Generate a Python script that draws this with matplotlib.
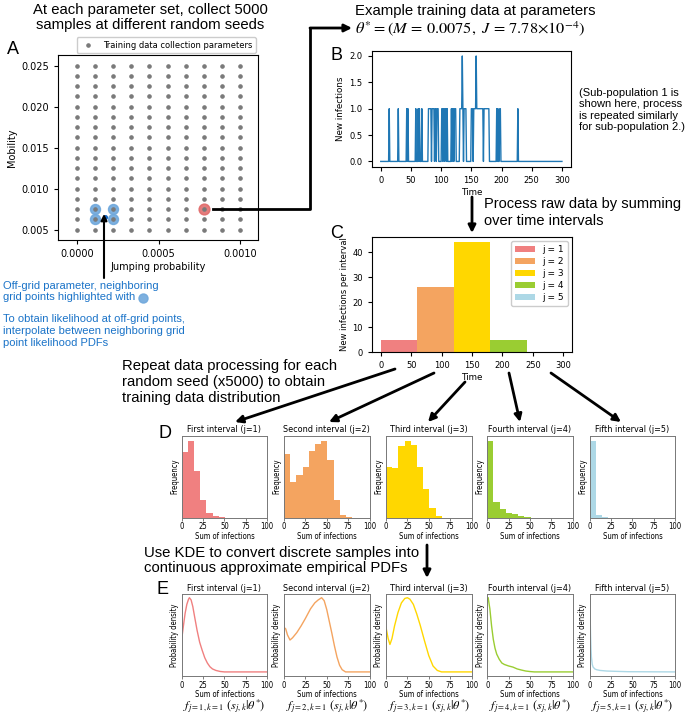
import numpy as np
import matplotlib
matplotlib.use('Agg')
import matplotlib.pyplot as plt
from matplotlib.patches import FancyArrowPatch, Patch
from matplotlib.lines import Line2D
from matplotlib.font_manager import FontProperties
from matplotlib.ticker import FormatStrFormatter

W, H = 688, 715
plt.rcParams['mathtext.fontset'] = 'stix'
plt.rcParams['font.family'] = ['DejaVu Sans']
SANS = ['Liberation Sans', 'DejaVu Sans']

# ---------------- data ----------------
grid_J = [0.0, 0.000111, 0.000222, 0.000333, 0.000444, 0.000556, 0.000667, 0.000778, 0.000889, 0.001]
grid_M = [0.005, 0.00625, 0.0075, 0.00875, 0.01, 0.01125, 0.0125, 0.01375, 0.015,
          0.01625, 0.0175, 0.01875, 0.02, 0.02125, 0.0225, 0.02375, 0.025]
neighbor_J = [0.000111, 0.000222, 0.000111, 0.000222]
neighbor_M = [0.00625, 0.00625, 0.0075, 0.0075]
theta_J, theta_M = 0.000778, 0.0075
offgrid_J, offgrid_M = 0.000169, 0.00654

time_steps = list(range(0, 301))
infection_times = [14, 29, 43, 45, 58,
                   62, 64, 68, 79, 80, 81, 82, 83, 85, 86, 87, 88, 90, 91, 93, 94, 95,
                   101, 102, 104, 105, 107, 108, 110, 117, 119,
                   120, 122, 123, 124, 131, 132, 133, 134, 135, 136, 138, 139, 140, 141,
                   150, 151, 152, 154, 155, 156, 157, 158, 159, 160, 161, 162, 163, 164,
                   165, 166, 167, 168, 169, 171, 172, 173, 174, 175, 176, 177, 178, 179,
                   192, 194, 197, 198, 227]
infection_counts = [1] * len(infection_times)
infection_counts[infection_times.index(135)] = 2
infection_counts[infection_times.index(158)] = 2

interval_starts = [0, 60, 120, 180, 240]
interval_width = 60
interval_sums = [5, 26, 44, 5, 0]
interval_labels = ['j = 1', 'j = 2', 'j = 3', 'j = 4', 'j = 5']
colors = ['#F08080', '#F4A460', '#FFD700', '#9ACD32', '#ADD8E6']

titles = ['First interval (j=1)', 'Second interval (j=2)', 'Third interval (j=3)',
          'Fourth interval (j=4)', 'Fifth interval (j=5)']
hist_bin_width = 7.25
hist_counts = [
    [1538, 1795, 1096, 412, 117, 31, 12],
    [646, 364, 435, 520, 680, 751, 785, 588, 180, 31, 7],
    [620, 608, 865, 934, 877, 612, 343, 114, 20],
    [3450, 717, 373, 224, 149, 60, 22],
    [4790, 166, 41],
]

kde_x = [
    [0, 2, 4, 6, 8, 9, 11, 13, 15, 18, 21, 24, 27, 30, 33, 36, 40, 45, 50, 100],
    [0, 2, 4, 7, 10, 15, 20, 25, 31, 36, 40, 44, 47, 50, 53, 56, 59, 62, 65, 68, 72, 100],
    [0, 2.5, 4.6, 7, 10, 14, 18, 22, 25, 28, 32, 36, 40, 45, 50, 55, 60, 65, 100],
    [0, 1, 3, 5, 7, 9, 11, 14, 17, 20, 25, 30, 35, 40, 45, 50, 55, 100],
    [0, 0.5, 1, 1.5, 2, 3, 4, 6, 8, 12, 20, 30, 45, 100],
]
kde_y = [
    [0.44, 0.62, 0.79, 0.91, 0.98, 1.0, 0.97, 0.88, 0.75, 0.56, 0.40, 0.29, 0.19, 0.12, 0.07, 0.04, 0.02, 0.006, 0.0, 0.0],
    [0.60, 0.58, 0.50, 0.43, 0.46, 0.53, 0.62, 0.72, 0.85, 0.93, 0.97, 1.0, 0.96, 0.84, 0.68, 0.52, 0.35, 0.20, 0.09, 0.03, 0.0, 0.0],
    [0.60, 0.45, 0.37, 0.45, 0.62, 0.80, 0.93, 0.99, 1.0, 0.98, 0.91, 0.78, 0.63, 0.42, 0.22, 0.08, 0.02, 0.0, 0.0],
    [0.97, 1.0, 0.85, 0.62, 0.44, 0.32, 0.24, 0.17, 0.12, 0.10, 0.08, 0.065, 0.04, 0.025, 0.012, 0.005, 0.0, 0.0],
    [1.0, 0.75, 0.5, 0.32, 0.2, 0.1, 0.065, 0.04, 0.03, 0.02, 0.012, 0.008, 0.003, 0.0],
]
f_labels = [r'$f_{j=%d,k=1}\ (s_{j,k}|\theta^{*})$' % (i + 1) for i in range(5)]

# ---------------- helpers ----------------
fig = plt.figure(figsize=(W / 100, H / 100), dpi=100)


def fpt(x, y):
    return (x / W, 1 - y / H)


def axes_px(l, t, r, b):
    return fig.add_axes([l / W, 1 - b / H, (r - l) / W, (b - t) / H])


def arrow(p0, p1, lw=2.0, ms=11):
    fig.add_artist(FancyArrowPatch(fpt(*p0), fpt(*p1), transform=fig.transFigure,
                                   arrowstyle='-|>', mutation_scale=ms, lw=lw, color='black',
                                   shrinkA=0, shrinkB=0))


def ftext(x, y, s, size=10, ha='left', color='black', ls=1.2, **kw):
    fig.text(x / W, 1 - y / H, s, fontsize=size, ha=ha, va='center', color=color,
             family=SANS, linespacing=ls, **kw)


# ---------------- panel A ----------------
axA = axes_px(58, 55, 258, 240)
GJ, GM = np.meshgrid(grid_J, grid_M)
axA.plot(neighbor_J, neighbor_M, 'o', ms=7.2, color='#6fa8dc', alpha=0.9, zorder=1, ls='none')
axA.plot([theta_J], [theta_M], 'o', ms=7.8, color='#e06666', alpha=0.85, zorder=1)
axA.plot(GJ.ravel(), GM.ravel(), 'o', ms=2.3, color='#7a7a7a', ls='none', zorder=2,
         label='Training data collection parameters')
axA.plot([offgrid_J], [offgrid_M], 'o', ms=2.6, color='#1565c0', zorder=3)
axA.set_xlim(-0.000117, 0.00111)
axA.set_ylim(0.00374, 0.0263)
axA.set_xticks([0.0, 0.0005, 0.001])
axA.xaxis.set_major_formatter(FormatStrFormatter('%.4f'))
axA.set_yticks([0.005, 0.010, 0.015, 0.020, 0.025])
axA.yaxis.set_major_formatter(FormatStrFormatter('%.3f'))
axA.tick_params(labelsize=7, length=3)
axA.set_xlabel('Jumping probability', fontsize=7, labelpad=2)
axA.set_ylabel('Mobility', fontsize=7, labelpad=3)
axA.legend(loc='lower right', bbox_to_anchor=(1.0, 1.0), fontsize=6, borderaxespad=0.25,
           handletextpad=0.8, borderpad=0.4, markerscale=1.0, framealpha=1)

# ---------------- panel B ----------------
axB = axes_px(371.7, 50.7, 571, 166.7)
series = np.zeros(len(time_steps))
for t, c in zip(infection_times, infection_counts):
    series[time_steps.index(t)] = c
axB.plot(time_steps, series, color='#1f77b4', lw=1.0)
axB.set_xlim(-15, 315)
axB.set_ylim(-0.1, 2.1)
axB.set_xticks([0, 50, 100, 150, 200, 250, 300])
axB.set_yticks([0.0, 0.5, 1.0, 1.5, 2.0])
axB.tick_params(labelsize=6, length=3)
axB.set_xlabel('Time', fontsize=6.3, labelpad=2)
axB.set_ylabel('New infections', fontsize=6.3, labelpad=3)

# ---------------- panel C ----------------
axC = axes_px(371.7, 236.7, 572.3, 352.3)
for s, v, c, lab in zip(interval_starts, interval_sums, colors, interval_labels):
    axC.bar(s, v, width=interval_width, align='edge', color=c, label=lab)
axC.set_xlim(-15, 315)
axC.set_ylim(0, 46.2)
axC.set_xticks([0, 50, 100, 150, 200, 250, 300])
axC.set_yticks([0, 10, 20, 30, 40])
axC.tick_params(labelsize=6, length=3)
axC.set_xlabel('Time', fontsize=6.3, labelpad=2)
axC.set_ylabel('New infections per interval', fontsize=6, labelpad=2)
axC.legend(loc='upper right', fontsize=6.5, handlelength=2.3, borderpad=0.4,
           labelspacing=0.35, framealpha=1)

# ---------------- panels D and E ----------------
cfp = dict(family='DejaVu Sans', stretch='condensed')
lefts = [181.7, 284, 386, 487.3, 589.7]
pw = 85.5
for i in range(5):
    axD = axes_px(lefts[i], 435.7, lefts[i] + pw, 517.7)
    edges = np.arange(len(hist_counts[i]) + 1) * hist_bin_width
    axD.bar(edges[:-1], hist_counts[i], width=hist_bin_width, align='edge', color=colors[i])
    axD.set_ylim(0, max(hist_counts[i]) * 1.065)
    axE = axes_px(lefts[i], 594, lefts[i] + pw, 676)
    axE.plot(kde_x[i], kde_y[i], color=colors[i], lw=1.0)
    axE.set_ylim(-0.055, 1.05)
    for ax, yl in ((axD, 'Frequency'), (axE, 'Probability density')):
        ax.set_xlim(0, 100)
        ax.set_xticks([0, 25, 50, 75, 100])
        ax.set_yticks([])
        ax.tick_params(labelsize=5.5, length=2.5, width=0.6, color='#666666', pad=0.8)
        for lbl in ax.get_xticklabels():
            lbl.set_fontproperties(FontProperties(size=5.5, **cfp))
        for sp in ax.spines.values():
            sp.set_color('#777777')
            sp.set_linewidth(0.7)
        ax.set_title(titles[i], fontproperties=FontProperties(size=6.5, **cfp), pad=2.5)
        ax.set_xlabel('Sum of infections', fontproperties=FontProperties(size=5.5, **cfp), labelpad=0.3)
        ax.set_ylabel(yl, fontproperties=FontProperties(size=5.5, **cfp), labelpad=2)
    fig.text((lefts[i] + pw / 2) / W, 1 - 707 / H, f_labels[i], fontsize=8.8, ha='center', va='center')

# ---------------- panel letters ----------------
for letter, x, y in (('A', 13, 50), ('B', 337, 55), ('C', 337, 234), ('D', 165, 433), ('E', 162, 590)):
    ftext(x, y, letter, size=13, ha='center')

# ---------------- annotations ----------------
ftext(150, 17.5, 'At each parameter set, collect 5000\nsamples at different random seeds', size=10.7, ha='center', ls=1.05)
ftext(355, 11, 'Example training data at parameters', size=10.7)
fig.text(355 / W, 1 - 28.5 / H, r'$\theta^{*} = (M\, =\, 0.0075,\ J\, =\, 7.78{\times}10^{-4})$',
         fontsize=11.8, ha='left', va='center')
ftext(579, 110, '(Sub-population 1 is\nshown here, process\nis repeated similarly\nfor sub-population 2.)', size=8, ls=1.2)
ftext(484, 212.5, 'Process raw data by summing\nover time intervals', size=10.5, ls=1.2)
ftext(122, 382, 'Repeat data processing for each\nrandom seed (x5000) to obtain\ntraining data distribution', size=10.7, ls=1.15)
ftext(144, 560.5, 'Use KDE to convert discrete samples into\ncontinuous approximate empirical PDFs', size=10.7, ls=1.1)
blue = '#1a73c8'
ftext(3, 291.5, 'Off-grid parameter, neighboring\ngrid points highlighted with', size=8, color=blue, ls=1.2)
ftext(3, 331, 'To obtain likelihood at off-grid points,\ninterpolate between neighboring grid\npoint likelihood PDFs', size=8, color=blue, ls=1.2)
fig.add_artist(Line2D([143 / W], [1 - 298 / H], marker='o', ms=6.5, color='#6fa8dc', alpha=0.9,
                      transform=fig.transFigure))

# ---------------- connectors ----------------
fig.add_artist(Line2D([213 / W, 310 / W, 310 / W], [1 - 209 / H, 1 - 209 / H, 1 - 28 / H],
                      transform=fig.transFigure, color='black', lw=2))
arrow((310, 28), (352, 28))
arrow((104, 278), (104, 214), lw=1.5, ms=9)
arrow((472, 197), (472, 233))
for p0, p1 in (((395, 369), (235, 422)), ((434, 373), (329, 422)), ((465, 382), (428, 422)),
               ((509, 373), (520, 422)), ((551, 373), (621, 422))):
    arrow(p0, p1)
arrow((427, 545), (427, 578))

fig.savefig('out.png', dpi=100)
